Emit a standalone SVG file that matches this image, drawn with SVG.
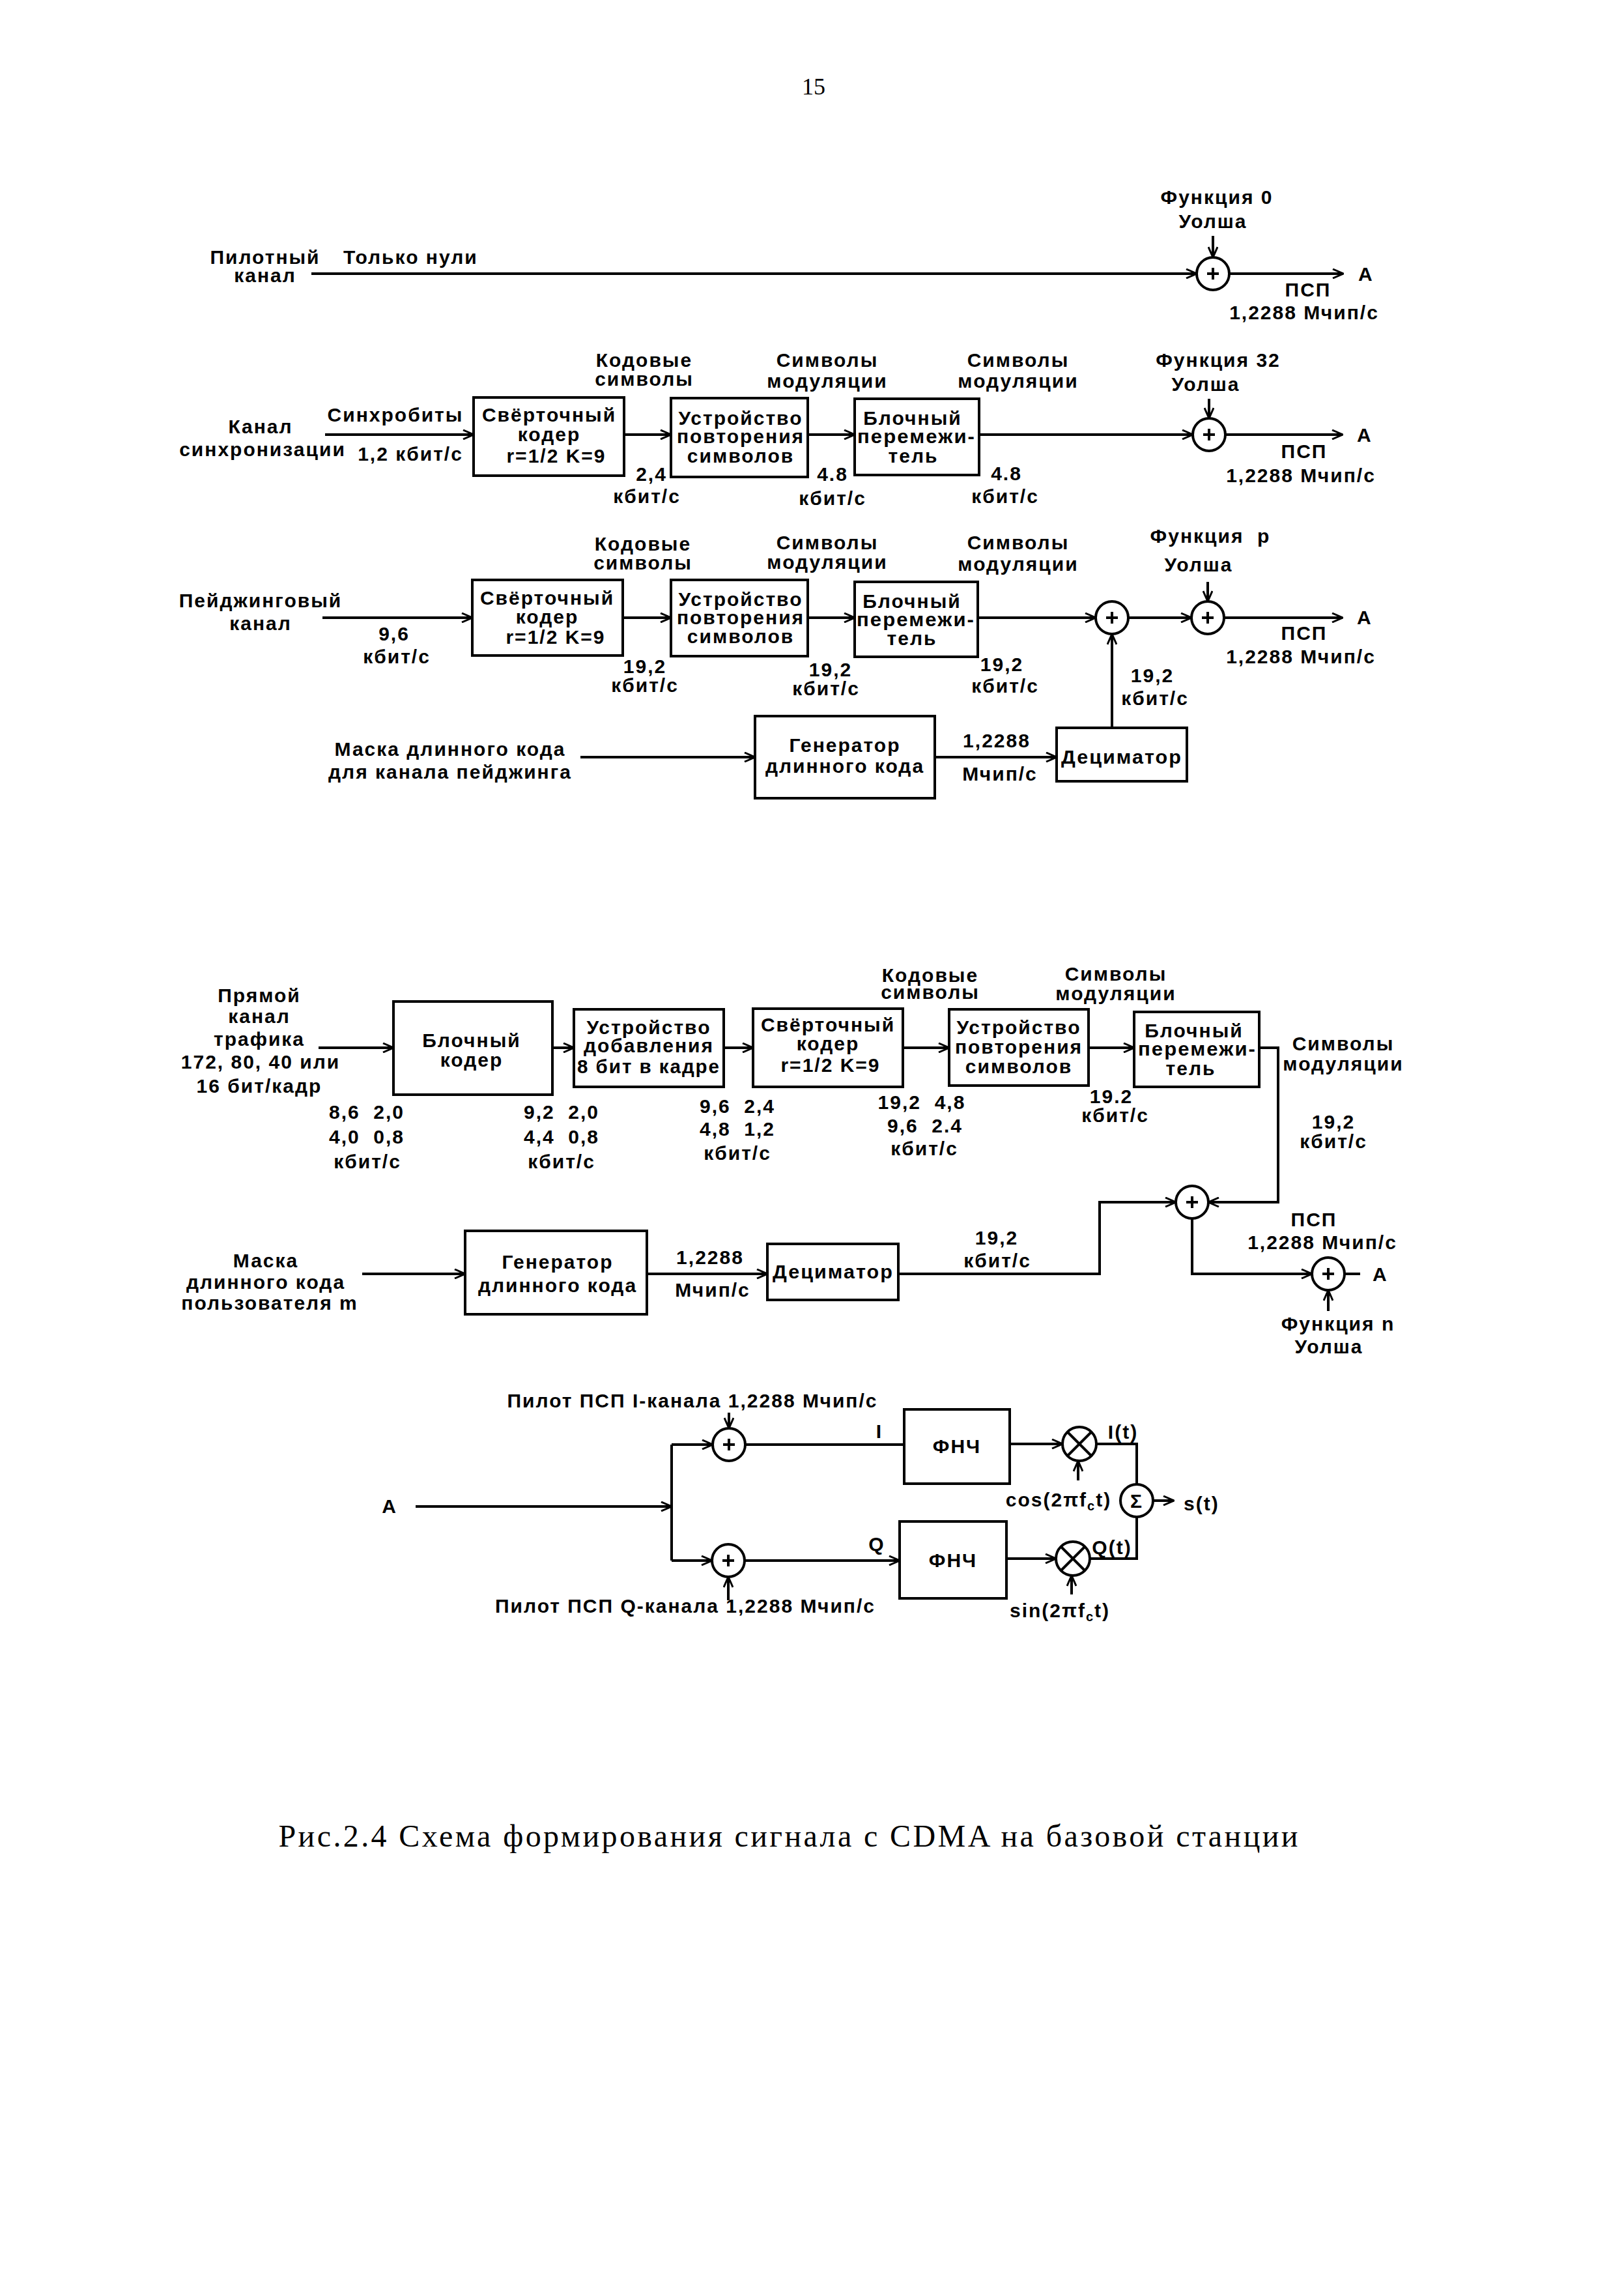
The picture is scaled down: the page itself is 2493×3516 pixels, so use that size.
<svg xmlns="http://www.w3.org/2000/svg" xmlns:xlink="http://www.w3.org/1999/xlink" width="2493" height="3516" viewBox="0 0 2493 3516">
<style>
.t{font-family:"Liberation Sans",Arial,sans-serif;font-size:30px;font-weight:bold;letter-spacing:2px;text-anchor:middle;fill:#000}
.l{text-anchor:start}
.ln{fill:none;stroke:#000;stroke-width:4}
.bx{fill:#fff;stroke:#000;stroke-width:4}
.ar{marker-end:url(#a)}
.serif{font-family:"Liberation Serif","Times New Roman",serif;fill:#000}
</style>
<defs>
<marker id="a" viewBox="0 0 18 16" refX="17" refY="8" markerWidth="18" markerHeight="16" markerUnits="userSpaceOnUse" orient="auto">
<path d="M1,1 L17,8 L1,15" fill="none" stroke="#000" stroke-width="3"/>
</marker>
<g id="sum"><circle r="25" fill="#fff" stroke="#000" stroke-width="4"/><path d="M-9,0H9M0,-9V9" stroke="#000" stroke-width="4"/></g>
<g id="mul"><circle r="26" fill="#fff" stroke="#000" stroke-width="4"/><path d="M-18,-18L18,18M-18,18L18,-18" stroke="#000" stroke-width="4"/></g>
</defs>
<rect width="2493" height="3516" fill="#fff"/>

<text class="serif" x="1249" y="145" font-size="36" text-anchor="middle">15</text>

<!-- connectors -->
<g id="connectors">
<!-- pilot -->
<path class="ln ar" d="M478,420H1837"/>
<path class="ln ar" d="M1862,362V395"/>
<path class="ln ar" d="M1887,420H2062"/>
<!-- sync -->
<path class="ln ar" d="M499,667H727"/>
<path class="ln ar" d="M958,667H1030"/>
<path class="ln ar" d="M1240,667H1312"/>
<path class="ln ar" d="M1503,667H1831"/>
<path class="ln ar" d="M1856,612V642"/>
<path class="ln ar" d="M1881,667H2061"/>
<!-- paging -->
<path class="ln ar" d="M495,948H725"/>
<path class="ln ar" d="M956,948H1030"/>
<path class="ln ar" d="M1240,948H1312"/>
<path class="ln ar" d="M1501,948H1682"/>
<path class="ln ar" d="M1732,948H1829"/>
<path class="ln ar" d="M1854,893V923"/>
<path class="ln ar" d="M1879,948H2061"/>
<path class="ln ar" d="M1707,1117V973"/>
<path class="ln ar" d="M891,1162H1159"/>
<path class="ln ar" d="M1435,1162H1622"/>
<!-- traffic -->
<path class="ln ar" d="M489,1608H604"/>
<path class="ln ar" d="M848,1608H881"/>
<path class="ln ar" d="M1111,1608H1156"/>
<path class="ln ar" d="M1386,1608H1457"/>
<path class="ln ar" d="M1671,1608H1741"/>
<path class="ln ar" d="M1933,1608H1962V1845H1855"/>
<path class="ln ar" d="M556,1955H714"/>
<path class="ln ar" d="M993,1955H1178"/>
<path class="ln ar" d="M1379,1955H1688V1845H1805"/>
<path class="ln ar" d="M1830,1870V1955H2014"/>
<path class="ln" d="M2064,1955H2088"/>
<path class="ln ar" d="M2039,2012V1980"/>
<!-- QPSK -->
<path class="ln ar" d="M638,2312H1031"/>
<path class="ln" d="M1031,2217V2395"/>
<path class="ln ar" d="M1031,2217H1094"/>
<path class="ln ar" d="M1031,2395H1093"/>
<path class="ln ar" d="M1119,2168V2192"/>
<path class="ln ar" d="M1118,2456V2420"/>
<path class="ln" d="M1144,2217H1388"/>
<path class="ln ar" d="M1143,2395H1381"/>
<path class="ln ar" d="M1550,2216H1631"/>
<path class="ln ar" d="M1545,2392H1621"/>
<path class="ln ar" d="M1655,2272V2242"/>
<path class="ln ar" d="M1645,2447V2418"/>
<path class="ln" d="M1683,2216H1745V2278"/>
<path class="ln" d="M1673,2392H1745V2328"/>
<path class="ln ar" d="M1770,2303H1802"/>
</g>

<!-- pilot channel -->
<g id="pilot-label"><text class="t" x="407" y="405">Пилотный</text><text class="t" x="407" y="433">канал</text></g>
<text class="t l" x="527" y="405">Только нули</text>
<g id="pilot-sum"><use xlink:href="#sum" x="1862" y="420"/></g>
<g id="pilot-walsh"><text class="t" x="1868" y="313">Функция 0</text><text class="t" x="1862" y="350">Уолша</text></g>
<text class="t l" x="2085" y="431">А</text>
<text class="t" x="2008" y="455">ПСП</text><text class="t" x="2002" y="490">1,2288 Мчип/с</text>

<!-- sync channel -->
<g id="sync-label"><text class="t" x="400" y="665">Канал</text><text class="t" x="403" y="700">синхронизации</text></g>
<text class="t" x="607" y="647">Синхробиты</text><text class="t" x="630" y="707">1,2 кбит/с</text>
<g id="sync-conv"><rect class="bx" x="727" y="610" width="231" height="120"/><text class="t" x="843" y="647">Свёрточный</text><text class="t" x="843" y="677">кодер</text><text class="t" x="854" y="710">r=1/2 K=9</text></g>
<g id="sync-rep"><rect class="bx" x="1030" y="611" width="210" height="121"/><text class="t" x="1137" y="652">Устройство</text><text class="t" x="1137" y="680">повторения</text><text class="t" x="1137" y="710">символов</text></g>
<g id="sync-int"><rect class="bx" x="1312" y="612" width="191" height="117"/><text class="t" x="1401" y="652">Блочный</text><text class="t" x="1407" y="680" textLength="182" lengthAdjust="spacingAndGlyphs">перемежи-</text><text class="t" x="1402" y="710">тель</text></g>
<g id="sync-sum"><use xlink:href="#sum" x="1856" y="667"/></g>
<g id="sync-walsh"><text class="t" x="1870" y="563">Функция 32</text><text class="t" x="1851" y="600">Уолша</text></g>
<text class="t l" x="2083" y="678">А</text>
<text class="t" x="2002" y="703">ПСП</text><text class="t" x="1997" y="740">1,2288 Мчип/с</text>
<text class="t" x="989" y="563">Кодовые</text><text class="t" x="989" y="592">символы</text>
<text class="t" x="1270" y="563">Символы</text><text class="t" x="1270" y="595">модуляции</text>
<text class="t" x="1563" y="563">Символы</text><text class="t" x="1563" y="595">модуляции</text>
<text class="t" x="1000" y="738">2,4</text><text class="t" x="993" y="772">кбит/с</text>
<text class="t" x="1278" y="738">4.8</text><text class="t" x="1278" y="775">кбит/с</text>
<text class="t" x="1545" y="737">4.8</text><text class="t" x="1543" y="772">кбит/с</text>

<!-- paging channel -->
<g id="paging-label"><text class="t" x="400" y="932">Пейджинговый</text><text class="t" x="400" y="967">канал</text></g>
<text class="t" x="605" y="983">9,6</text><text class="t" x="609" y="1018">кбит/с</text>
<g id="paging-conv"><rect class="bx" x="725" y="890" width="231" height="116"/><text class="t" x="840" y="928">Свёрточный</text><text class="t" x="840" y="957">кодер</text><text class="t" x="853" y="988">r=1/2 K=9</text></g>
<g id="paging-rep"><rect class="bx" x="1030" y="890" width="210" height="117"/><text class="t" x="1137" y="930">Устройство</text><text class="t" x="1137" y="958">повторения</text><text class="t" x="1137" y="987">символов</text></g>
<g id="paging-int"><rect class="bx" x="1312" y="893" width="189" height="115"/><text class="t" x="1400" y="933">Блочный</text><text class="t" x="1406" y="961" textLength="182" lengthAdjust="spacingAndGlyphs">перемежи-</text><text class="t" x="1400" y="990">тель</text></g>
<g id="paging-sum1"><use xlink:href="#sum" x="1707" y="948"/></g>
<g id="paging-sum2"><use xlink:href="#sum" x="1854" y="948"/></g>
<g id="paging-walsh"><text class="t" x="1858" y="833" xml:space="preserve">Функция  р</text><text class="t" x="1840" y="877">Уолша</text></g>
<text class="t l" x="2083" y="958">А</text>
<text class="t" x="2002" y="982">ПСП</text><text class="t" x="1997" y="1018">1,2288 Мчип/с</text>
<text class="t" x="987" y="845">Кодовые</text><text class="t" x="987" y="874">символы</text>
<text class="t" x="1270" y="843">Символы</text><text class="t" x="1270" y="873">модуляции</text>
<text class="t" x="1563" y="843">Символы</text><text class="t" x="1563" y="876">модуляции</text>
<text class="t" x="990" y="1033">19,2</text><text class="t" x="990" y="1062">кбит/с</text>
<text class="t" x="1275" y="1038">19,2</text><text class="t" x="1268" y="1067">кбит/с</text>
<text class="t" x="1538" y="1030">19,2</text><text class="t" x="1543" y="1063">кбит/с</text>
<text class="t" x="1769" y="1047">19,2</text><text class="t" x="1773" y="1082">кбит/с</text>
<g id="paging-mask"><text class="t" x="691" y="1160">Маска длинного кода</text><text class="t" x="691" y="1195">для канала пейджинга</text></g>
<g id="paging-gen"><rect class="bx" x="1159" y="1099" width="276" height="126"/><text class="t" x="1297" y="1154">Генератор</text><text class="t" x="1297" y="1186">длинного кода</text></g>
<text class="t" x="1530" y="1147">1,2288</text><text class="t" x="1535" y="1198">Мчип/с</text>
<g id="paging-dec"><rect class="bx" x="1622" y="1117" width="200" height="82"/><text class="t" x="1722" y="1172" textLength="186" lengthAdjust="spacingAndGlyphs">Дециматор</text></g>

<!-- traffic channel -->
<g id="traffic-label"><text class="t" x="398" y="1538">Прямой</text><text class="t" x="398" y="1570">канал</text><text class="t" x="398" y="1605">трафика</text><text class="t" x="400" y="1640">172, 80, 40 или</text><text class="t" x="398" y="1677">16 бит/кадр</text></g>
<g id="traffic-block"><rect class="bx" x="604" y="1537" width="244" height="143"/><text class="t" x="724" y="1607">Блочный</text><text class="t" x="724" y="1637">кодер</text></g>
<g id="traffic-add"><rect class="bx" x="881" y="1549" width="230" height="119"/><text class="t" x="996" y="1587">Устройство</text><text class="t" x="996" y="1615">добавления</text><text class="t" x="996" y="1647" textLength="220" lengthAdjust="spacingAndGlyphs">8 бит в кадре</text></g>
<g id="traffic-conv"><rect class="bx" x="1156" y="1548" width="230" height="120"/><text class="t" x="1271" y="1583">Свёрточный</text><text class="t" x="1271" y="1612">кодер</text><text class="t" x="1275" y="1645">r=1/2 K=9</text></g>
<g id="traffic-rep"><rect class="bx" x="1457" y="1549" width="214" height="117"/><text class="t" x="1564" y="1587">Устройство</text><text class="t" x="1564" y="1617">повторения</text><text class="t" x="1564" y="1647">символов</text></g>
<g id="traffic-int"><rect class="bx" x="1741" y="1553" width="192" height="115"/><text class="t" x="1833" y="1592">Блочный</text><text class="t" x="1838" y="1620" textLength="182" lengthAdjust="spacingAndGlyphs">перемежи-</text><text class="t" x="1828" y="1650">тель</text></g>
<text class="t" x="1428" y="1507">Кодовые</text><text class="t" x="1428" y="1533">символы</text>
<text class="t" x="1713" y="1505">Символы</text><text class="t" x="1713" y="1535">модуляции</text>
<text class="t" x="2062" y="1612">Символы</text><text class="t" x="2062" y="1643">модуляции</text>
<text class="t" x="2047" y="1732">19,2</text><text class="t" x="2047" y="1762">кбит/с</text>
<text class="t" x="1706" y="1693">19.2</text><text class="t" x="1712" y="1722">кбит/с</text>
<text class="t" x="563" y="1717" xml:space="preserve">8,6  2,0</text><text class="t" x="563" y="1755" xml:space="preserve">4,0  0,8</text><text class="t" x="564" y="1793">кбит/с</text>
<text class="t" x="862" y="1717" xml:space="preserve">9,2  2,0</text><text class="t" x="862" y="1755" xml:space="preserve">4,4  0,8</text><text class="t" x="862" y="1793">кбит/с</text>
<text class="t" x="1132" y="1708" xml:space="preserve">9,6  2,4</text><text class="t" x="1132" y="1743" xml:space="preserve">4,8  1,2</text><text class="t" x="1132" y="1780">кбит/с</text>
<text class="t" x="1415" y="1702" xml:space="preserve">19,2  4,8</text><text class="t" x="1420" y="1738" xml:space="preserve">9,6  2.4</text><text class="t" x="1419" y="1773">кбит/с</text>
<g id="traffic-mask"><text class="t" x="408" y="1945">Маска</text><text class="t" x="408" y="1978">длинного кода</text><text class="t" x="414" y="2010">пользователя m</text></g>
<g id="traffic-gen"><rect class="bx" x="714" y="1889" width="279" height="128"/><text class="t" x="856" y="1947">Генератор</text><text class="t" x="856" y="1983">длинного кода</text></g>
<text class="t" x="1090" y="1940">1,2288</text><text class="t" x="1094" y="1990">Мчип/с</text>
<g id="traffic-dec"><rect class="bx" x="1178" y="1909" width="201" height="86"/><text class="t" x="1279" y="1962" textLength="186" lengthAdjust="spacingAndGlyphs">Дециматор</text></g>
<text class="t" x="1530" y="1910">19,2</text><text class="t" x="1531" y="1945">кбит/с</text>
<g id="traffic-sum1"><use xlink:href="#sum" x="1830" y="1845"/></g>
<g id="traffic-sum2"><use xlink:href="#sum" x="2039" y="1955"/></g>
<text class="t l" x="2107" y="1966">А</text>
<text class="t" x="2017" y="1882">ПСП</text><text class="t" x="2030" y="1917">1,2288 Мчип/с</text>
<g id="traffic-walsh"><text class="t" x="2054" y="2042">Функция n</text><text class="t" x="2040" y="2077">Уолша</text></g>

<!-- QPSK -->
<text class="t" x="1063" y="2160">Пилот ПСП I-канала 1,2288 Мчип/с</text>
<text class="t" x="1052" y="2475">Пилот ПСП Q-канала 1,2288 Мчип/с</text>
<text class="t" x="598" y="2322">А</text>
<g id="q-sumI"><use xlink:href="#sum" x="1119" y="2217"/></g>
<g id="q-sumQ"><use xlink:href="#sum" x="1118" y="2395"/></g>
<text class="t" x="1350" y="2207">I</text>
<text class="t" x="1346" y="2380">Q</text>
<g id="q-lpfI"><rect class="bx" x="1388" y="2163" width="162" height="114"/><text class="t" x="1469" y="2230">ФНЧ</text></g>
<g id="q-lpfQ"><rect class="bx" x="1381" y="2335" width="164" height="118"/><text class="t" x="1463" y="2405">ФНЧ</text></g>
<g id="q-mulI"><use xlink:href="#mul" x="1657" y="2216"/></g>
<g id="q-mulQ"><use xlink:href="#mul" x="1647" y="2392"/></g>
<text class="t" x="1625" y="2312">cos(2πf<tspan font-size="20" dy="6">c</tspan><tspan dy="-6">t)</tspan></text>
<text class="t" x="1627" y="2482">sin(2πf<tspan font-size="20" dy="6">c</tspan><tspan dy="-6">t)</tspan></text>
<text class="t" x="1724" y="2208">I(t)</text>
<text class="t" x="1707" y="2385">Q(t)</text>
<g id="q-sigma"><circle cx="1745" cy="2303" r="25" fill="#fff" stroke="#000" stroke-width="4"/><text class="t" x="1745" y="2314">Σ</text></g>
<text class="t l" x="1817" y="2318">s(t)</text>

<text class="serif" x="1210" y="2834" font-size="48" text-anchor="middle" textLength="1565" lengthAdjust="spacing">Рис.2.4 Схема формирования сигнала с CDMA на базовой станции</text>
</svg>
